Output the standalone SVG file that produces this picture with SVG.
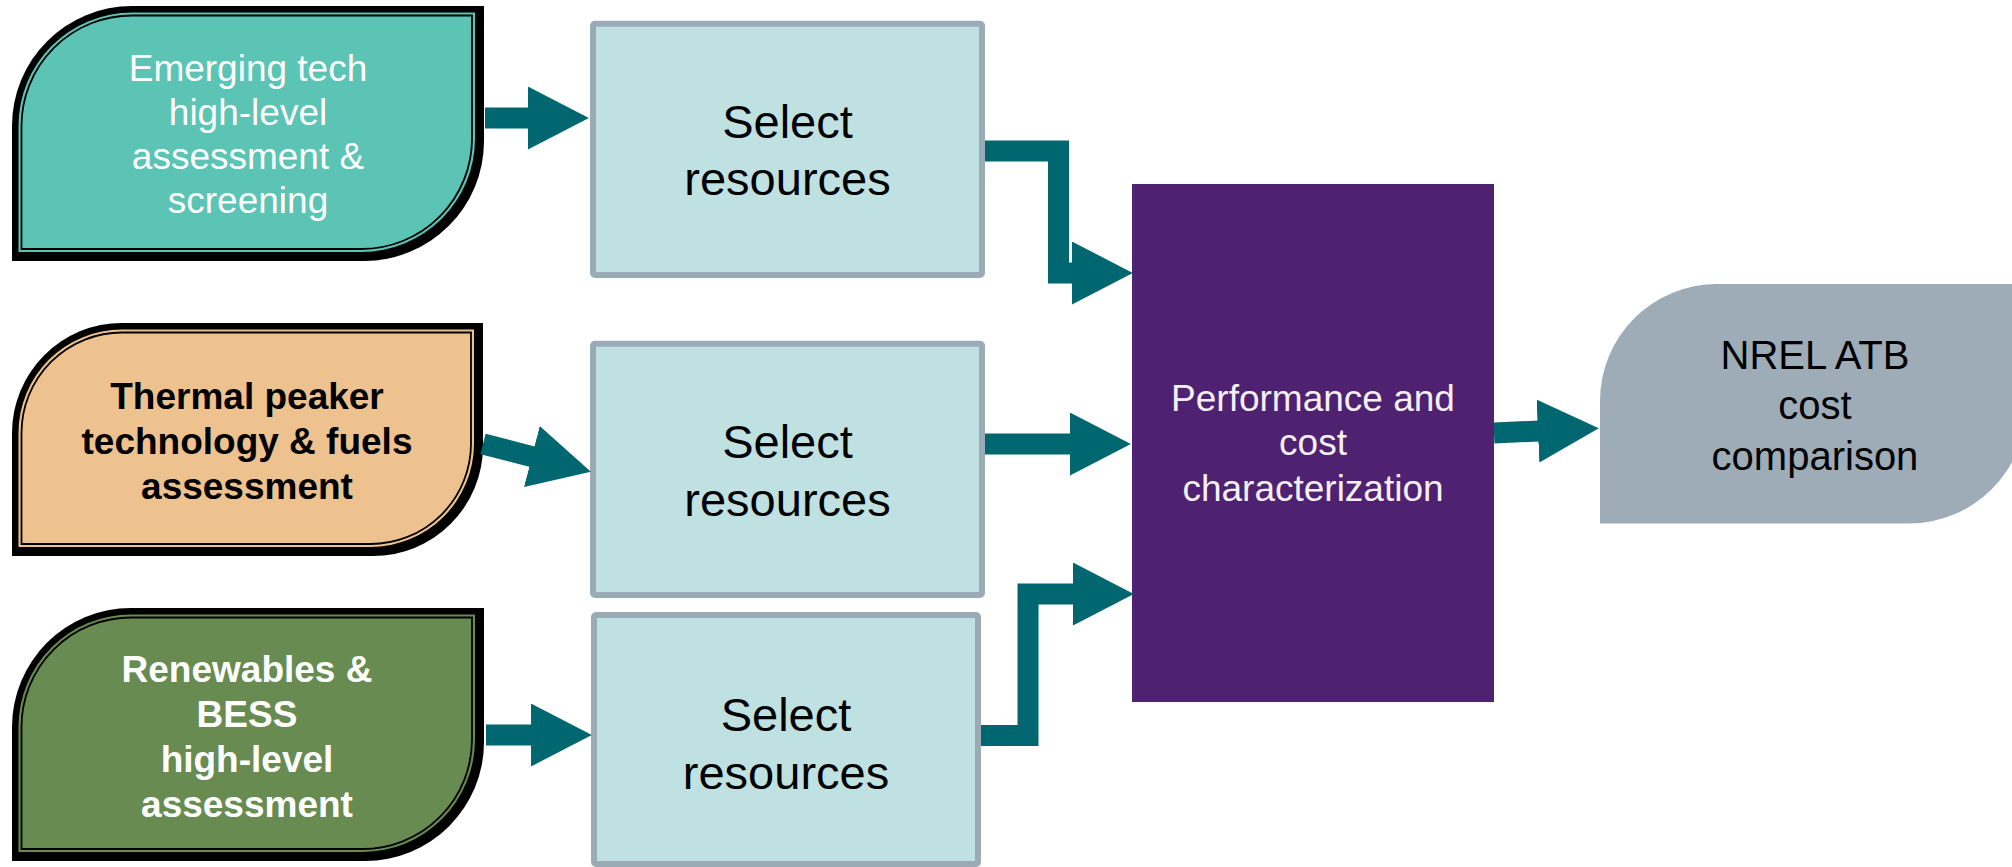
<svg xmlns="http://www.w3.org/2000/svg" width="2012" height="867" viewBox="0 0 2012 867">
  <style>
    .blk { fill: #000000; }
    .t { font-family: "Liberation Sans", Arial, sans-serif; text-anchor: middle; }
    .n { font-size: 37px; }
    .b { font-weight: bold; }
    .sel { font-size: 47px; fill: #000000; }
    .selbox { fill: #BFE1E1; stroke: #9BABB5; stroke-width: 6; }
    .conn { fill: none; stroke: #006670; stroke-width: 21; stroke-linejoin: miter; stroke-linecap: butt; }
    .teal { fill: #5BC4B4; }
    .tan { fill: #EDC28E; }
    .grn { fill: #678B51; }
    .line { stroke: #000000; stroke-width: 1.8; }
  </style>
  <defs>
    <marker id="ah" viewBox="0 0 3 3" refX="0.05" refY="1.5" markerWidth="3" markerHeight="3" markerUnits="strokeWidth" orient="auto">
      <path d="M0,0 L2.9,1.5 L0,3 Z" fill="#006670"/>
    </marker>
  </defs>
  <rect x="0" y="0" width="2012" height="867" fill="#FFFFFF"/>

  <g id="node-emerging">
    <path class="blk" d="M12,261 L12,126 A120,120 0 0 1 132,6 L484,6 L484,141 A120,120 0 0 1 364,261 Z"/>
    <path class="teal" d="M18.5,252 L18.5,126 A113.5,113.5 0 0 1 132,12.5 L475,12.5 L475,138.5 A113.5,113.5 0 0 1 361.5,252 Z"/>
    <path class="teal line" d="M21.5,249 L21.5,126 A110.5,110.5 0 0 1 132,15.5 L472,15.5 L472,138.5 A110.5,110.5 0 0 1 361.5,249 Z"/>
    <text class="t n" fill="#FFFFFF" x="248" y="81">Emerging tech</text>
    <text class="t n" fill="#FFFFFF" x="248" y="125">high-level</text>
    <text class="t n" fill="#FFFFFF" x="248" y="169">assessment &amp;</text>
    <text class="t n" fill="#FFFFFF" x="248" y="213">screening</text>
  </g>

  <g id="node-thermal">
    <path class="blk" d="M12,556 L12,433 A110,110 0 0 1 122,323 L483,323 L483,446 A110,110 0 0 1 373,556 Z"/>
    <path class="tan" d="M18.5,547 L18.5,433 A103.5,103.5 0 0 1 122,329.5 L474,329.5 L474,443.5 A103.5,103.5 0 0 1 370.5,547 Z"/>
    <path class="tan line" d="M21.5,544 L21.5,433 A100.5,100.5 0 0 1 122,332.5 L471,332.5 L471,443.5 A100.5,100.5 0 0 1 370.5,544 Z"/>
    <text class="t n b" fill="#000000" x="247" y="409">Thermal peaker</text>
    <text class="t n b" fill="#000000" x="247" y="454">technology &amp; fuels</text>
    <text class="t n b" fill="#000000" x="247" y="499">assessment</text>
  </g>

  <g id="node-renewables">
    <path class="blk" d="M12,861 L12,727 A119,119 0 0 1 131,608 L484,608 L484,742 A119,119 0 0 1 365,861 Z"/>
    <path class="grn" d="M18.5,852 L18.5,727 A112.5,112.5 0 0 1 131,614.5 L475,614.5 L475,739.5 A112.5,112.5 0 0 1 362.5,852 Z"/>
    <path class="grn line" d="M21.5,849 L21.5,727 A109.5,109.5 0 0 1 131,617.5 L472,617.5 L472,739.5 A109.5,109.5 0 0 1 362.5,849 Z"/>
    <text class="t n b" fill="#FFFFFF" x="247" y="682">Renewables &amp;</text>
    <text class="t n b" fill="#FFFFFF" x="247" y="727">BESS</text>
    <text class="t n b" fill="#FFFFFF" x="247" y="772">high-level</text>
    <text class="t n b" fill="#FFFFFF" x="247" y="817">assessment</text>
  </g>

  <g id="select-1">
    <rect class="selbox" x="593" y="23.7" width="389" height="251.3" rx="2"/>
    <text class="t sel" x="787.5" y="138">Select</text>
    <text class="t sel" x="787.5" y="195">resources</text>
  </g>
  <g id="select-2">
    <rect class="selbox" x="593" y="343.7" width="389" height="251.3" rx="2"/>
    <text class="t sel" x="787.5" y="458">Select</text>
    <text class="t sel" x="787.5" y="516">resources</text>
  </g>
  <g id="select-3">
    <rect class="selbox" x="594" y="615" width="384" height="249" rx="2"/>
    <text class="t sel" x="786" y="731">Select</text>
    <text class="t sel" x="786" y="789">resources</text>
  </g>

  <g id="performance">
    <rect x="1132" y="184" width="362" height="518" fill="#4E2270"/>
    <text class="t n" fill="#F6F0F6" x="1313" y="411">Performance and</text>
    <text class="t n" fill="#F6F0F6" x="1313" y="455">cost</text>
    <text class="t n" fill="#F6F0F6" x="1313" y="501">characterization</text>
  </g>

  <g id="nrel">
    <path d="M1600,523.5 L1600,401 A117,117 0 0 1 1717,284 L2026,284 L2026,406.5 A117,117 0 0 1 1909,523.5 Z" fill="#9DACB7"/>
    <text class="t" font-size="40" fill="#000000" x="1815" y="369">NREL ATB</text>
    <text class="t" font-size="40" fill="#000000" x="1815" y="419">cost</text>
    <text class="t" font-size="40" fill="#000000" x="1815" y="470">comparison</text>
  </g>

  <g id="connectors">
    <path class="conn" marker-end="url(#ah)" d="M485,118 H529"/>
    <path class="conn" marker-end="url(#ah)" d="M483,444 L532.9,456.8"/>
    <path class="conn" marker-end="url(#ah)" d="M486,735 H532"/>
    <path class="conn" marker-end="url(#ah)" d="M985,151 H1058.5 V273 H1073"/>
    <path class="conn" marker-end="url(#ah)" d="M985,444 H1071"/>
    <path class="conn" marker-end="url(#ah)" d="M981,735.5 H1028 V594 H1074"/>
    <path class="conn" marker-end="url(#ah)" d="M1494,433 L1539,431"/>
  </g>
</svg>
